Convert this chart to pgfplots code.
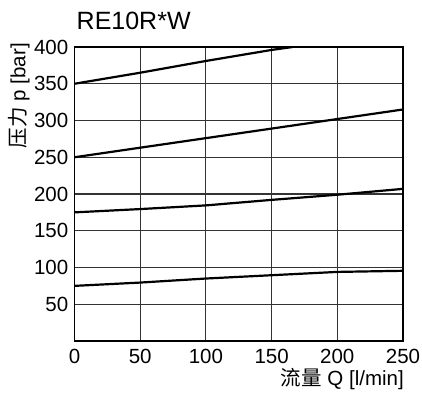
\documentclass[border=0pt]{standalone}
\usepackage{fontspec}
\setmainfont{Liberation Sans}
\newfontfamily\cjk{Noto Sans CJK SC}
\usepackage{pgfplots}
\pgfplotsset{compat=1.18}
\begin{document}
\begin{tikzpicture}
\begin{axis}[
  scale only axis,
  width=328.5pt, height=294pt,
  xmin=0, xmax=250, ymin=0, ymax=400,
  xtick={0,50,100,150,200,250},
  ytick={50,100,150,200,250,300,350,400},
  grid=major,
  major grid style={line width=1.1pt, color=black!80},
  major tick length=0pt,
  axis line style={line width=1.6pt, black},
  /pgf/number format/assume math mode=true,
  ticklabel style={font=\fontsize{20.5}{23}\selectfont},
  xticklabel style={inner sep=0pt, anchor=north, yshift=-8pt},
  yticklabel style={inner sep=0pt, anchor=east, xshift=-6pt},
  clip=true,
]
\addplot[black, line width=2.2pt] coordinates {(0,350)(50,365)(100,381)(150,396)(166,400)};
\addplot[black, line width=2.2pt] coordinates {(0,250)(50,263)(100,276)(150,289)(200,302)(250,315)};
\addplot[black, line width=2.2pt] coordinates {(0,175)(50,179.5)(100,184.5)(150,192)(200,199)(250,207)};
\addplot[black, line width=2.2pt] coordinates {(0,75)(50,79.5)(100,85)(150,89.5)(200,94)(250,95.5)};
\end{axis}
\node[anchor=base west, inner sep=0pt, font=\fontsize{25}{28}\selectfont] at ([xshift=2pt, yshift=17.7pt]current axis.north west) {RE10R*W};
\node[anchor=base east, inner sep=0pt, font=\fontsize{20.5}{23}\selectfont] at ([xshift=1pt, yshift=-45pt]current axis.south east) {{\cjk 流量} Q [l/min]};
\node[rotate=90, anchor=north east, inner sep=0pt, font=\fontsize{20.5}{23}\selectfont] at ([xshift=-66.5pt, yshift=4pt]current axis.north west) {{\cjk 压力} p [bar]};
\pgfresetboundingbox
\path[use as bounding box] ([xshift=-74.5pt, yshift=-54pt]current axis.south west) rectangle ([xshift=19pt, yshift=47pt]current axis.north east);
\end{tikzpicture}
\end{document}
